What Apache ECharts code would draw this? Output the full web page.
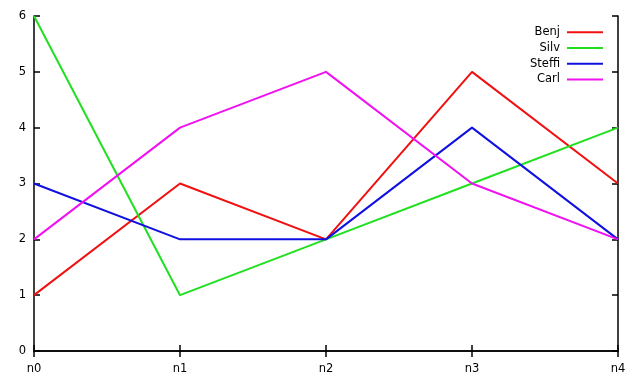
<!DOCTYPE html>
<html>
<head>
<meta charset="utf-8">
<script src="https://cdn.jsdelivr.net/npm/echarts@6/dist/echarts.min.js"></script>
<style>html,body{margin:0;padding:0;background:#fff}#c{width:640px;height:384px}</style>
</head>
<body>
<div id="c"></div>
<script>
var categories = ['n0', 'n1', 'n2', 'n3', 'n4'];
var seriesNames = ['Benj', 'Silv', 'Steffi', 'Carl'];
var benj = [1, 3, 2, 5, 3];
var silv = [6, 1, 2, 3, 4];
var steffi = [3, 2, 2, 4, 2];
var carl = [2, 4, 5, 3, 2];
var yTicks = [0, 1, 2, 3, 4, 5, 6];
var colors = ['#f01010', '#20e020', '#1010e0', '#f010f0'];

var values = [benj, silv, steffi, carl];
var font = 'DejaVu Sans';
var chart = echarts.init(document.getElementById('c'));
var axisLine = { show: true, lineStyle: { color: '#000', width: 1.5 } };
var tick = { show: true, inside: true, length: 6, lineStyle: { color: '#000', width: 1.5 } };
chart.setOption({
  animation: false,
  backgroundColor: '#fff',
  color: colors,
  grid: { left: 34, right: 22, top: 16, bottom: 33 },
  legend: {
    orient: 'vertical', right: 32, top: 19.5, align: 'right',
    icon: 'rect', itemWidth: 36, itemHeight: 2, itemGap: 0,
    textStyle: { fontFamily: font, fontSize: 11.5, color: '#000', padding: [1, 2, 1, 0], lineHeight: 13.7 },
    data: seriesNames
  },
  xAxis: [{
    type: 'category', data: categories, boundaryGap: false,
    axisLine: axisLine, axisTick: Object.assign({}, tick, { alignWithLabel: true }),
    axisLabel: { fontFamily: font, fontSize: 11.5, color: '#000', margin: 12 },
    splitLine: { show: false }
  }, {
    type: 'category', data: categories, boundaryGap: false, position: 'top',
    axisLine: axisLine, axisTick: tick, axisLabel: { show: false }, splitLine: { show: false }
  }],
  yAxis: [{
    type: 'value', min: yTicks[0], max: yTicks[yTicks.length - 1], interval: 1,
    axisLine: axisLine, axisTick: tick,
    axisLabel: { fontFamily: font, fontSize: 11.5, color: '#000', margin: 8 },
    splitLine: { show: false }
  }, {
    type: 'value', min: yTicks[0], max: yTicks[yTicks.length - 1], interval: 1, position: 'right',
    axisLine: axisLine, axisTick: tick, axisLabel: { show: false }, splitLine: { show: false }
  }],
  series: seriesNames.map(function (n, i) {
    return {
      name: n, type: 'line', data: values[i], symbol: 'none',
      xAxisIndex: 0, yAxisIndex: 0,
      lineStyle: { width: 2, color: colors[i] }, itemStyle: { color: colors[i] }
    };
  })
});
</script>
</body>
</html>
